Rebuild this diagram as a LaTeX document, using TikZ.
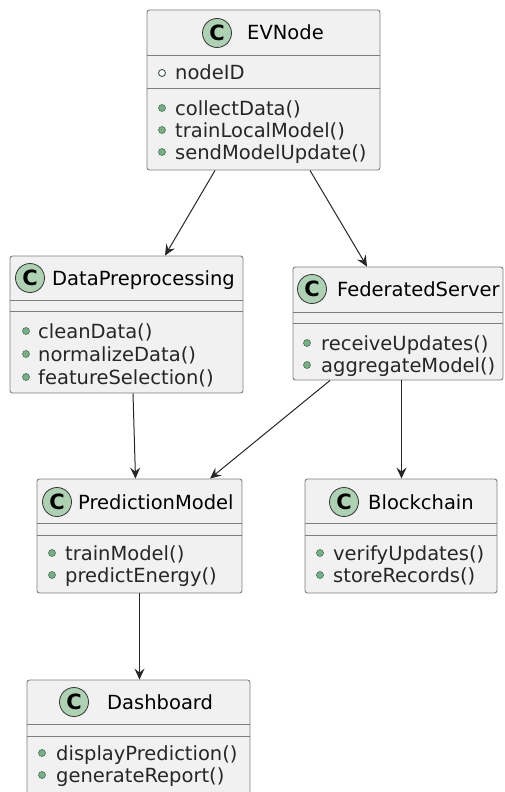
\documentclass[tikz,border=0pt]{standalone}
\usepackage{fontspec}
\setmainfont{DejaVu Sans}
\usepackage{xcolor}
\usepackage{tikz}
\usetikzlibrary{positioning,arrows.meta,calc}
\definecolor{umlfill}{RGB}{241,241,241}
\definecolor{umlline}{RGB}{125,125,125}
\definecolor{spotfill}{RGB}{173,209,178}
\definecolor{opfill}{RGB}{122,172,134}
\definecolor{opborder}{RGB}{70,118,88}
\definecolor{attrborder}{RGB}{60,90,75}
\newcommand{\umlfont}{\fontsize{19.5}{22}\selectfont}
\tikzset{
  umlbox/.style={draw=umlline,line width=0.9pt,fill=umlfill,
            rounded corners=2.5pt,inner sep=0pt},
  sepline/.style={draw=umlline,line width=0.9pt},
  spot/.style={circle,draw=black!80,line width=0.8pt,fill=spotfill,
            minimum size=29pt,inner sep=0pt,
            font=\fontsize{21}{21}\selectfont\bfseries},
  cname/.style={anchor=base west,inner sep=0pt,font=\umlfont},
  member/.style={anchor=base west,inner sep=0pt,font=\umlfont,black!85},
  opdot/.style={circle,draw=opborder,fill=opfill,line width=0.6pt,
            minimum size=7pt,inner sep=0pt},
  attrdot/.style={circle,draw=attrborder,fill=white,line width=0.9pt,
            minimum size=7pt,inner sep=0pt},
  dep/.style={-{Stealth[length=11pt,width=10pt,inset=4pt]},line width=1pt,black!85},
}

\begin{document}
\begin{tikzpicture}[x=1pt,y=-1pt]
  \useasboundingbox (0,0) rectangle (504,792);
  \clip (0,0) rectangle (504,792);
  % class boxes
  \node[umlbox,minimum width=233pt,minimum height=160pt] (ev)   at (263.5,90)  {};
  \node[umlbox,minimum width=233pt,minimum height=137pt] (dp)   at (126.5,324.5) {};
  \node[umlbox,minimum width=210pt,minimum height=113pt] (fs)   at (398,323.5) {};
  \node[umlbox,minimum width=205pt,minimum height=114pt] (pm)   at (139.5,536) {};
  \node[umlbox,minimum width=192pt,minimum height=114pt] (bc)   at (401,536)   {};
  \node[umlbox,minimum width=223pt,minimum height=130pt] (dash) at (138.5,745) {};
  % compartment separators
  \draw[sepline] ([yshift=-46pt]ev.north west) -- ([yshift=-46pt]ev.north east);
  \draw[sepline] ([yshift=-79pt]ev.north west) -- ([yshift=-79pt]ev.north east);
  \draw[sepline] ([yshift=-45pt]dp.north west) -- ([yshift=-45pt]dp.north east);
  \draw[sepline] ([yshift=-56pt]dp.north west) -- ([yshift=-56pt]dp.north east);
  \draw[sepline] ([yshift=-46pt]fs.north west) -- ([yshift=-46pt]fs.north east);
  \draw[sepline] ([yshift=-57pt]fs.north west) -- ([yshift=-57pt]fs.north east);
  \draw[sepline] ([yshift=-45pt]pm.north west) -- ([yshift=-45pt]pm.north east);
  \draw[sepline] ([yshift=-57pt]pm.north west) -- ([yshift=-57pt]pm.north east);
  \draw[sepline] ([yshift=-45pt]bc.north west) -- ([yshift=-45pt]bc.north east);
  \draw[sepline] ([yshift=-57pt]bc.north west) -- ([yshift=-57pt]bc.north east);
  \draw[sepline] ([yshift=-45pt]dash.north west) -- ([yshift=-45pt]dash.north east);
  \draw[sepline] ([yshift=-57pt]dash.north west) -- ([yshift=-57pt]dash.north east);
  % EVNode
  \node[spot]  (evc)    at (217,33)  {C};
  \node[cname] (evname) at (247,40)  {EVNode};
  \node[attrdot] (eva1d) at (162,73) {};
  \node[member] (eva1) at (175,80)   {nodeID};
  \node[opdot] (evo1d) at (162,108)  {};
  \node[member] (evo1) at (175,115)  {collectData()};
  \node[opdot] (evo2d) at (162,130)  {};
  \node[member] (evo2) at (175,137)  {trainLocalModel()};
  \node[opdot] (evo3d) at (162,152)  {};
  \node[member] (evo3) at (175,159)  {sendModelUpdate()};
  % DataPreprocessing
  \node[spot]  (dpc)    at (30,278)  {C};
  \node[cname] (dpname) at (52,285)  {DataPreprocessing};
  \node[opdot] (dpo1d) at (26,331)   {};
  \node[member] (dpo1) at (38,338)   {cleanData()};
  \node[opdot] (dpo2d) at (26,354)   {};
  \node[member] (dpo2) at (38,361)   {normalizeData()};
  \node[opdot] (dpo3d) at (26,377)   {};
  \node[member] (dpo3) at (38,384)   {featureSelection()};
  % FederatedServer
  \node[spot]  (fsc)    at (312,289) {C};
  \node[cname] (fsname) at (337,296) {FederatedServer};
  \node[opdot] (fso1d) at (307,343)  {};
  \node[member] (fso1) at (321,350)  {receiveUpdates()};
  \node[opdot] (fso2d) at (307,365)  {};
  \node[member] (fso2) at (321,372)  {aggregateModel()};
  % PredictionModel
  \node[spot]  (pmc)    at (57,502)  {C};
  \node[cname] (pmname) at (78,509)  {PredictionModel};
  \node[opdot] (pmo1d) at (52,553)   {};
  \node[member] (pmo1) at (65,560)   {trainModel()};
  \node[opdot] (pmo2d) at (52,575)   {};
  \node[member] (pmo2) at (65,582)   {predictEnergy()};
  % Blockchain
  \node[spot]  (bcc)    at (344,502) {C};
  \node[cname] (bcname) at (368,509) {Blockchain};
  \node[opdot] (bco1d) at (320,553)  {};
  \node[member] (bco1) at (333,560)  {verifyUpdates()};
  \node[opdot] (bco2d) at (320,575)  {};
  \node[member] (bco2) at (333,582)  {storeRecords()};
  % Dashboard
  \node[spot]  (dac)    at (74,702)  {C};
  \node[cname] (daname) at (107,709) {Dashboard};
  \node[opdot] (dao1d) at (42,753)   {};
  \node[member] (dao1) at (56,760)   {displayPrediction()};
  \node[opdot] (dao2d) at (42,775)   {};
  \node[member] (dao2) at (56,782)   {generateReport()};
  % dependencies
  \draw[dep] ([xshift=-48.5pt]ev.south) -- ([xshift=38.5pt]dp.north);
  \draw[dep] ([xshift=46.5pt]ev.south) -- ([xshift=-31pt]fs.north);
  \draw[dep] ([xshift=6.5pt]dp.south) -- ([xshift=-4pt]pm.north);
  \draw[dep] ([xshift=-68pt]fs.south) -- ([xshift=70.5pt]pm.north);
  \draw[dep] ([xshift=3.5pt]fs.south) -- ([xshift=0.5pt]bc.north);
  \draw[dep] (pm.south) -- ([xshift=1pt]dash.north);
\end{tikzpicture}
\end{document}
